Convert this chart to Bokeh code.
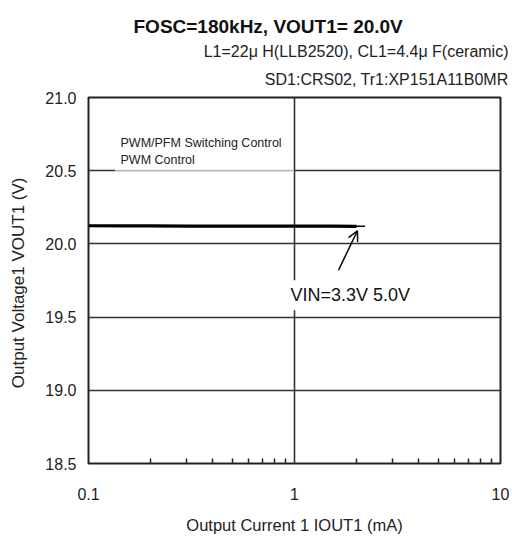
from bokeh.plotting import figure
from bokeh.models import FixedTicker, Label, Arrow, OpenHead, NumeralTickFormatter, Range1d, Title
from bokeh.embed import file_html
from bokeh.resources import INLINE

FONT = "Liberation Sans"

# ---- data ----
iout_33 = [0.1, 0.15, 0.2, 0.3, 0.5, 0.7, 1.0, 1.5, 2.0]
vout_33 = [20.124, 20.123, 20.123, 20.122, 20.122, 20.122, 20.121, 20.121, 20.120]
iout_50 = [0.1, 0.2, 0.3, 0.5, 0.7, 1.0, 1.5, 2.0, 2.2]
vout_50 = [20.121, 20.121, 20.121, 20.120, 20.120, 20.120, 20.120, 20.120, 20.120]

x_major = [0.1, 1, 10]
x_minor = [0.2, 0.3, 0.4, 0.5, 0.6, 0.7, 0.8, 0.9, 2, 3, 4, 5, 6, 7, 8, 9]
y_ticks = [18.5, 19.0, 19.5, 20.0, 20.5, 21.0]

title = "FOSC=180kHz, VOUT1= 20.0V"
sub1 = "L1=22\u03bc H(LLB2520), CL1=4.4\u03bc F(ceramic)"
sub2 = "SD1:CRS02, Tr1:XP151A11B0MR"
legend_lines = ["PWM/PFM Switching Control", "PWM  Control"]
note = "VIN=3.3V 5.0V"

W, H = 512, 536
ML, MR, MT, MB = 88, 12, 97, 72

p = figure(width=W, height=H, x_axis_type="log",
           x_range=Range1d(0.1, 10), y_range=Range1d(18.5, 21.0),
           min_border_left=ML, min_border_right=MR, min_border_top=MT, min_border_bottom=MB,
           toolbar_location=None, output_backend="svg", title=None)

p.outline_line_color = "#222222"
p.outline_line_width = 2
p.background_fill_color = "white"
p.border_fill_color = "white"

xa = p.xaxis[0]
xa.ticker = FixedTicker(ticks=x_major, minor_ticks=x_minor)
xa.major_label_overrides = {0.1: "0.1", 1: "1", 10: "10"}
xa.major_tick_in = 0
xa.major_tick_out = 0
xa.minor_tick_in = 5
xa.minor_tick_out = 0
xa.minor_tick_line_color = "#222222"
xa.minor_tick_line_width = 1.5
xa.axis_line_color = None
xa.major_label_standoff = 24
xa.major_label_text_font = FONT
xa.major_label_text_font_size = "16px"
xa.major_label_text_color = "#222222"
xa.axis_label = "Output Current 1 IOUT1 (mA)"
xa.axis_label_text_font = FONT
xa.axis_label_text_font_size = "16.5px"
xa.axis_label_text_font_style = "normal"
xa.axis_label_text_color = "#222222"
xa.axis_label_standoff = 13

ya = p.yaxis[0]
ya.ticker = FixedTicker(ticks=y_ticks)
ya.formatter = NumeralTickFormatter(format="0.0")
ya.major_tick_in = 0
ya.major_tick_out = 0
ya.minor_tick_line_color = None
ya.axis_line_color = None
ya.major_label_standoff = 12
ya.major_label_text_font = FONT
ya.major_label_text_font_size = "16px"
ya.major_label_text_color = "#222222"
ya.axis_label = "Output Voltage1  VOUT1 (V)"
ya.axis_label_text_font = FONT
ya.axis_label_text_font_size = "17px"
ya.axis_label_text_font_style = "normal"
ya.axis_label_text_color = "#222222"
ya.axis_label_standoff = 14

p.xgrid.grid_line_color = "#333333"
p.xgrid.grid_line_width = 1.6
p.ygrid.grid_line_color = "#333333"
p.ygrid.grid_line_width = 1.6

# legend area (light bottom edge, no glyph samples)
p.segment(x0=[0.135], y0=[20.5], x1=[0.99], y1=[20.5], line_color="white", line_width=3)
p.segment(x0=[0.135], y0=[20.5], x1=[0.99], y1=[20.5], line_color="#b5b5b5", line_width=1.5)
p.add_layout(Label(x=0.143, y=20.687, text=legend_lines[0], text_font=FONT,
                   text_font_size="12.5px", text_color="#222222", text_baseline="alphabetic"))
p.add_layout(Label(x=0.143, y=20.571, text=legend_lines[1], text_font=FONT,
                   text_font_size="12.5px", text_color="#222222", text_baseline="alphabetic"))

# data lines
p.line(iout_50, vout_50, line_color="black", line_width=1.5)
p.line(iout_33, vout_33, line_color="black", line_width=3.2)

# annotation
p.add_layout(Arrow(end=OpenHead(size=10, line_width=1.5, line_color="black"),
                   x_start=1.635, y_start=19.82, x_end=2.02, y_end=20.09,
                   line_width=1.5, line_color="black"))
p.add_layout(Label(x=0.904, y=19.65, text=note, text_font=FONT, text_font_size="18px",
                   text_color="#111111", text_baseline="alphabetic",
                   background_fill_color="white", padding=5))

# titles: first added sits nearest the frame
p.add_layout(Title(text=sub2, align="right", offset=-8, standoff=20,
                   text_font=FONT, text_font_size="16px", text_font_style="normal",
                   text_color="#222222"), "above")
p.add_layout(Title(text=sub1, align="right", offset=-8, standoff=-3,
                   text_font=FONT, text_font_size="16px", text_font_style="normal",
                   text_color="#222222"), "above")
p.add_layout(Title(text=title, align="left", offset=45, standoff=12,
                   text_font=FONT, text_font_size="19px", text_font_style="bold",
                   text_color="#111111"), "above")

open("out.html", "w").write(file_html(p, INLINE))
